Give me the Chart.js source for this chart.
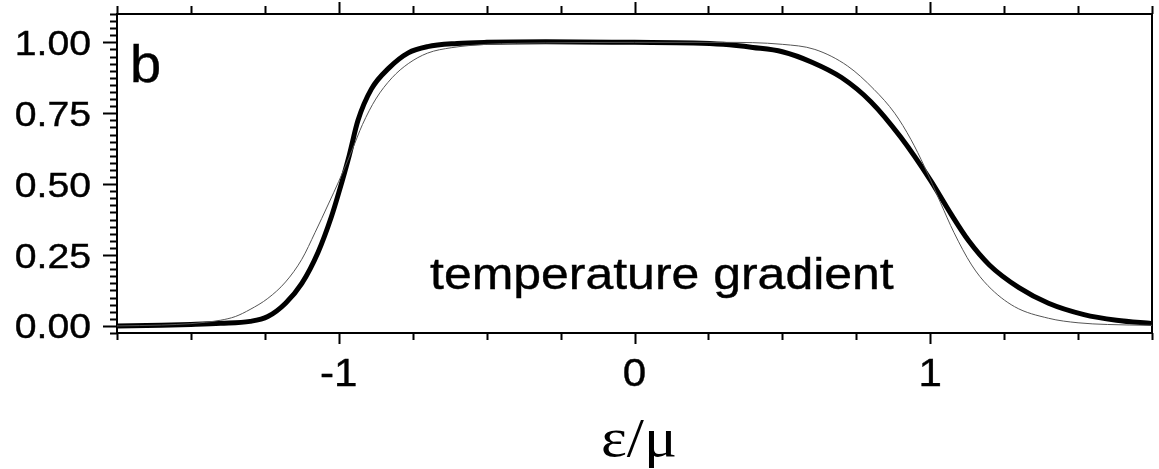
<!DOCTYPE html>
<html>
<head>
<meta charset="utf-8">
<script src="https://cdn.jsdelivr.net/npm/chart.js@4.4.1/dist/chart.umd.min.js"></script>
<style>
  body { margin: 0; background: #fff; }
  #caja { width: 1159px; height: 469px; position: relative; }
</style>
</head>
<body>
<div id="caja"><canvas id="line-chart"></canvas></div>
<script>
// curva gruesa (gradiente de temperatura)
var xGruesa = [-1.75, -1.6, -1.5, -1.4, -1.3, -1.24, -1.18, -1.125, -1.07, -1.025, -1.0, -0.965, -0.935, -0.89, -0.83, -0.765, -0.7, -0.6, -0.5, -0.3, 0, 0.2, 0.3, 0.4, 0.5, 0.6, 0.7, 0.8, 0.9, 1.0, 1.07, 1.13, 1.2, 1.3, 1.4, 1.52, 1.63, 1.75];
var yGruesa = [0.0, 0.002, 0.005, 0.009, 0.016, 0.033, 0.08, 0.15, 0.26, 0.385, 0.47, 0.6, 0.725, 0.835, 0.91, 0.963, 0.985, 0.996, 1.0, 1.002, 1.0, 0.998, 0.993, 0.982, 0.967, 0.93, 0.876, 0.79, 0.666, 0.515, 0.395, 0.3, 0.215, 0.135, 0.08, 0.04, 0.02, 0.008];
// curva delgada
var xDelgada = [-1.75, -1.6, -1.5, -1.45, -1.4, -1.35, -1.3, -1.24, -1.18, -1.125, -1.08, -1.035, -1.0, -0.955, -0.92, -0.875, -0.82, -0.765, -0.7, -0.62, -0.5, -0.3, 0, 0.3, 0.5, 0.61, 0.72, 0.81, 0.88, 0.935, 0.98, 1.035, 1.08, 1.14, 1.195, 1.285, 1.4, 1.5, 1.6, 1.75];
var yDelgada = [0.0, 0.003, 0.008, 0.013, 0.02, 0.033, 0.058, 0.097, 0.155, 0.235, 0.33, 0.43, 0.51, 0.62, 0.71, 0.80, 0.875, 0.925, 0.962, 0.981, 0.993, 0.998, 1.0, 1.0, 0.993, 0.975, 0.917, 0.834, 0.75, 0.657, 0.563, 0.434, 0.33, 0.215, 0.142, 0.068, 0.027, 0.011, 0.005, 0.002];

var etiquetasX = [-1, 0, 1];
var etiquetasY = [0, 0.25, 0.5, 0.75, 1.0];
var textoPanel = "b";
var textoCurva = "temperature gradient";
var tituloX = "\u03b5/\u03bc";

// junta dos listas en puntos {x,y}
function ArmaPuntos(listaX, listaY) {
    var puntos = [];
    for (var i = 0; i < listaX.length; i++) {
        puntos.push({ x: listaX[i], y: listaY[i] });
    }
    return puntos;
}

// texto estirado a lo ancho, como en la figura original (trazo opcional para engrosar)
function TextoAncho(ctx, txt, x, y, font, align, sx, grosor) {
    ctx.save();
    ctx.translate(x, y);
    ctx.scale(sx, 1);
    ctx.font = font;
    ctx.textAlign = align;
    ctx.textBaseline = "alphabetic";
    ctx.fillStyle = "#000";
    ctx.fillText(txt, 0, 0);
    if (grosor) {
        ctx.strokeStyle = "#000";
        ctx.lineWidth = grosor;
        ctx.strokeText(txt, 0, 0);
    }
    ctx.restore();
}

// marcas de los ejes y textos
var pluginEjes = {
    id: "ejes",
    afterDraw: function (chart) {
        var ctx = chart.ctx;
        var sx = chart.scales.x, sy = chart.scales.y;
        var area = chart.chartArea;
        var fuente = "'Liberation Sans', Arial, sans-serif";
        ctx.save();
        ctx.strokeStyle = "#000";
        ctx.lineWidth = 2;
        ctx.beginPath();
        // eje x abajo y arriba: cada 0.25
        for (var i = -7; i <= 7; i++) {
            var v = i * 0.25;
            var px = Math.round(sx.getPixelForValue(v)) + 0.5;
            var mayor = (i % 4 === 0);
            ctx.moveTo(px, area.bottom);
            ctx.lineTo(px, area.bottom + (mayor ? 11 : 7));
            ctx.moveTo(px, area.top);
            ctx.lineTo(px, area.top - (mayor ? 12 : 8));
        }
        // eje y izquierda: cada 0.025
        for (var j = -1; j <= 44; j++) {
            var w = j * 0.025;
            var py = Math.round(sy.getPixelForValue(w)) + 0.5;
            var mayorY = (j >= 0 && j % 10 === 0);
            ctx.moveTo(area.left, py);
            ctx.lineTo(area.left - (mayorY ? 14 : 7), py);
        }
        ctx.stroke();
        ctx.restore();

        for (var k = 0; k < etiquetasY.length; k++) {
            TextoAncho(ctx, etiquetasY[k].toFixed(2), 91, sy.getPixelForValue(etiquetasY[k]) + 12.5, "35px " + fuente, "right", 1.12, 0.4);
        }
        for (var m = 0; m < etiquetasX.length; m++) {
            TextoAncho(ctx, String(etiquetasX[m]), sx.getPixelForValue(etiquetasX[m]), 386, "39px " + fuente, "center", 1.08, 0.4);
        }
        TextoAncho(ctx, textoPanel, 130, 82, "51px " + fuente, "left", 1.1, 0.4);
        TextoAncho(ctx, textoCurva, 430, 289, "45px " + fuente, "left", 1.11, 0.4);
        TextoAncho(ctx, tituloX, 639, 456, "55px 'Liberation Serif', 'Times New Roman', serif", "center", 1.12, 0);
    }
};

function EjeBase(pos, min, max) {
    return {
        type: "linear",
        position: pos,
        min: min,
        max: max,
        ticks: { display: false },
        grid: { display: false, drawTicks: false },
        border: { display: true, color: "#000", width: 2 }
    };
}

function CARGAR_GRAFICA() {
    new Chart(document.getElementById("line-chart"), {
        type: "line",
        data: {
            datasets: [{
                data: ArmaPuntos(xDelgada, yDelgada),
                borderColor: "#555",
                borderWidth: 1,
                pointRadius: 0,
                cubicInterpolationMode: "monotone",
                fill: false
            }, {
                data: ArmaPuntos(xGruesa, yGruesa),
                borderColor: "#000",
                borderWidth: 5,
                pointRadius: 0,
                cubicInterpolationMode: "monotone",
                fill: false
            }]
        },
        options: {
            responsive: true,
            maintainAspectRatio: false,
            animation: false,
            layout: { padding: { left: 117, top: 14, right: 7, bottom: 136 } },
            plugins: { legend: { display: false }, tooltip: { enabled: false } },
            scales: {
                x: EjeBase("bottom", -1.75, 1.75),
                x2: EjeBase("top", -1.75, 1.75),
                y: EjeBase("left", -0.025, 1.1),
                y2: EjeBase("right", -0.025, 1.1)
            }
        },
        plugins: [pluginEjes]
    });
}

CARGAR_GRAFICA();
</script>
</body>
</html>
